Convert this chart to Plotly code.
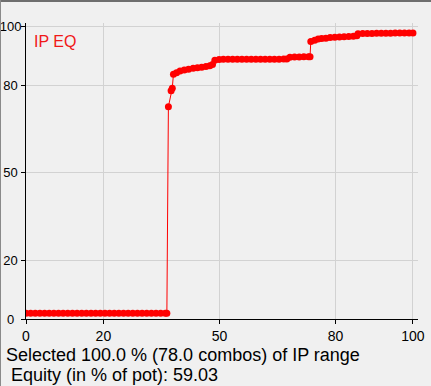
import plotly.graph_objects as go

# Equity curve (x: % of range, y: equity %)
range_pct = [0, 1.2, 2.4, 3.6, 4.8, 6.0, 7.2, 8.4, 9.6, 10.8, 12.0, 13.2, 14.4, 15.6,
             16.8, 18.0, 19.2, 20.4, 21.6, 22.8, 24.0, 25.2, 26.4, 27.6, 28.8, 30.0,
             31.2, 32.4, 33.6, 34.8, 36.0, 36.4,
             36.8, 37.5, 37.8, 38.1, 38.9, 39.8, 40.9, 42.0, 43.2, 44.3, 45.4, 46.5,
             47.5, 48.2, 48.8,
             49.9, 51.0, 52.2, 53.4, 54.6, 55.8, 57.0, 58.2, 59.4, 60.6, 61.8, 63.0,
             64.2, 65.4, 66.6, 67.4,
             68.2, 69.4, 70.6, 71.8, 73.0, 73.4,
             73.6, 74.6, 75.5, 76.4, 77.5, 78.6, 79.8, 81.0, 82.2, 83.4, 84.6, 85.5,
             85.8, 87.0, 88.2, 89.4, 90.6, 91.8, 93.0, 94.2, 95.4, 96.6, 97.8, 99.0, 100.0]
equity = [2.0, 2.0, 2.0, 2.0, 2.0, 2.0, 2.0, 2.0, 2.0, 2.0, 2.0, 2.0, 2.0, 2.0,
          2.0, 2.0, 2.0, 2.0, 2.0, 2.0, 2.0, 2.0, 2.0, 2.0, 2.0, 2.0,
          2.0, 2.0, 2.0, 2.0, 2.0, 2.0,
          72.6, 78.0, 78.9, 83.7, 84.2, 84.8, 85.1, 85.4, 85.7, 85.9, 86.1, 86.3,
          86.6, 87.0, 88.5,
          88.7, 88.8, 88.8, 88.8, 88.8, 88.8, 88.8, 88.8, 88.8, 88.8, 88.8, 88.8,
          88.8, 88.8, 88.9, 88.9,
          89.5, 89.6, 89.6, 89.7, 89.7, 89.7,
          94.9, 95.3, 95.7, 95.9, 96.0, 96.2, 96.3, 96.4, 96.5, 96.6, 96.7, 96.8,
          97.5, 97.6, 97.6, 97.6, 97.7, 97.7, 97.7, 97.7, 97.8, 97.8, 97.8, 97.8, 97.8]

tick_vals = [0, 20, 50, 80, 100]
tick_text = ["0", "20", "50", "80", "100"]

series_label = "IP EQ"
info_line1 = "Selected 100.0 % (78.0 combos) of IP range"
info_line2 = "Equity (in % of pot): 59.03"

W, H = 431, 386
ML, MR, MT, MB = 26, 13, 23, 67
PW, PH = W - ML - MR, H - MT - MB
FONT = "Liberation Sans, Arial, sans-serif"


def px_x(p):
    return (p - ML) / PW


def px_y(p):
    return 1 - (p - MT) / PH


# y tick labels are centred in the reference: pad shorter labels on the right
pad = {1: "\u2007", 2: "\u2008", 3: ""}
y_tick_text = [t + pad[len(t)] for t in tick_text]

fig = go.Figure()
fig.add_trace(go.Scatter(
    x=range_pct, y=equity, mode="lines+markers",
    line=dict(color="#ff0000", width=1),
    marker=dict(color="#ff0000", size=7, line=dict(width=0)),
    hoverinfo="skip", showlegend=False,
))

axis_common = dict(
    tickvals=tick_vals,
    showgrid=True, gridcolor="#d2d2d2", gridwidth=1,
    showline=True, linecolor="#000000", linewidth=1,
    ticks="outside", ticklen=4, tickcolor="#000000",
    zeroline=False, automargin=False,
    fixedrange=True,
)

fig.update_layout(
    width=W, height=H, autosize=False,
    margin=dict(l=ML, r=MR, t=MT, b=MB, pad=0, autoexpand=False),
    paper_bgcolor="#f0f0f0", plot_bgcolor="#f0f0f0",
    xaxis=dict(range=[0, 101.3], ticktext=tick_text,
               tickfont=dict(family=FONT, size=14, color="#000000"), **axis_common),
    yaxis=dict(range=[0, 101.2], ticktext=y_tick_text, ticklabelstandoff=-3,
               tickfont=dict(family=FONT, size=13, color="#000000"), **axis_common),
    font=dict(family=FONT),
)

fig.add_annotation(
    x=px_x(32), y=px_y(42), xref="paper", yref="paper",
    text=series_label, showarrow=False, xanchor="left", yanchor="middle",
    font=dict(size=16, color="#f01818", family=FONT),
)
fig.add_annotation(
    x=px_x(4), y=px_y(355), xref="paper", yref="paper",
    text=info_line1, showarrow=False, xanchor="left", yanchor="middle",
    font=dict(size=18, color="#000000", family=FONT),
)
fig.add_annotation(
    x=px_x(9), y=px_y(375), xref="paper", yref="paper",
    text=info_line2, showarrow=False, xanchor="left", yanchor="middle",
    font=dict(size=18, color="#000000", family=FONT),
)

# window frame edges
fig.add_shape(type="rect", xref="paper", yref="paper",
              x0=px_x(0), x1=px_x(W), y0=px_y(2), y1=px_y(0),
              fillcolor="#6e6e6e", line=dict(width=0), layer="above")
fig.add_shape(type="rect", xref="paper", yref="paper",
              x0=px_x(0), x1=px_x(1), y0=px_y(H), y1=px_y(0),
              fillcolor="#8a8a8a", line=dict(width=0), layer="above")

fig.write_html(
    "out.html",
    config={"displayModeBar": False},
    post_script="document.body.style.margin='0';document.body.style.background='#f0f0f0';",
)
